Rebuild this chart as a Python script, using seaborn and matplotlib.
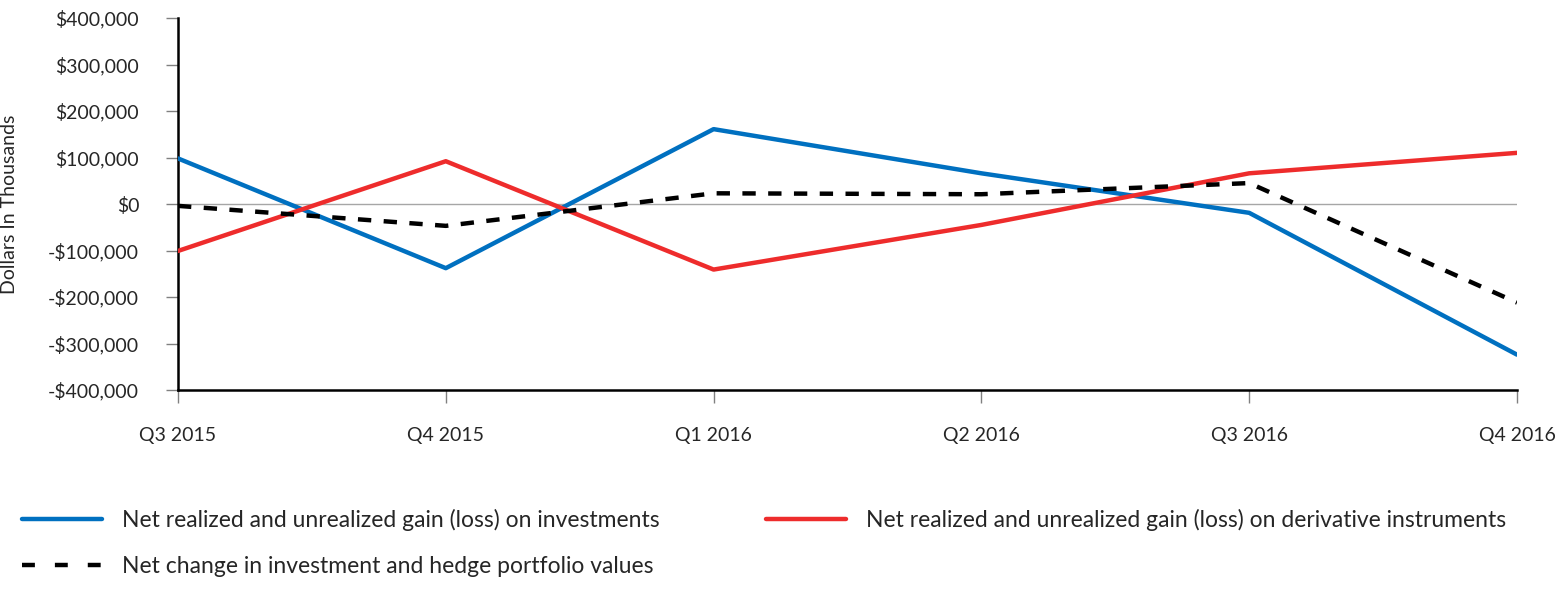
import matplotlib
matplotlib.use("Agg")
import matplotlib.pyplot as plt
import matplotlib.ticker as mticker
from matplotlib.lines import Line2D
import seaborn as sns
import pandas as pd

quarters = ["Q3 2015", "Q4 2015", "Q1 2016", "Q2 2016", "Q3 2016", "Q4 2016"]
investments = [98000, -138000, 161000, 66000, -19000, -324000]
derivatives = [-101000, 92000, -141000, -45000, 66000, 110000]
net_change = [-4000, -47000, 23000, 21000, 45000, -212000]

names = [
    "Net realized and unrealized gain (loss) on investments",
    "Net realized and unrealized gain (loss) on derivative instruments",
    "Net change in investment and hedge portfolio values",
]

rows = []
for name, vals in zip(names, [investments, derivatives, net_change]):
    for i, (q, v) in enumerate(zip(quarters, vals)):
        rows.append({"pos": i, "quarter": q, "value": v, "series": name})
df = pd.DataFrame(rows)

sns.set_theme(style="white")
plt.rcParams["font.family"] = ["Lato", "DejaVu Sans"]

W, H = 1557, 598
fig = plt.figure(figsize=(W / 100, H / 100), dpi=100)
ax = fig.add_axes([178 / W, 1 - 390 / H, (1517 - 178) / W, (390 - 18) / H])

colors = ["#0070C0", "#EE2C2C", "#000000"]
palette = dict(zip(names, colors))
dashes = {names[0]: "", names[1]: "", names[2]: (3, 2.8)}
sns.lineplot(data=df, x="pos", y="value", hue="series", style="series",
             palette=palette, dashes=dashes, linewidth=3.2, ax=ax, legend=False,
             zorder=3)

ax.axhline(0, color="#A6A6A6", linewidth=1, zorder=1)
ax.set_xlim(0, 5)
ax.set_ylim(-400000, 400000)
ax.set_xticks(range(len(quarters)))
ax.set_xticklabels(quarters)
ax.set_yticks(range(-400000, 400001, 100000))
ax.yaxis.set_major_formatter(mticker.FuncFormatter(
    lambda v, p: ("-$" if v < 0 else "$") + f"{abs(int(v)):,}"))
for s in ["top", "right"]:
    ax.spines[s].set_visible(False)
for s in ["left", "bottom"]:
    ax.spines[s].set_color("black")
    ax.spines[s].set_linewidth(1.8)
ax.tick_params(axis="both", which="major", direction="out", length=9, width=1,
               color="#808080", labelsize=14, labelcolor="#262626", bottom=True, left=True)
ax.tick_params(axis="x", pad=18)
ax.tick_params(axis="y", pad=19)
ax.set_xlabel("")
ax.set_ylabel("Dollars In Thousands", fontsize=14, color="#262626")
ax.yaxis.set_label_coords((18 - 178) / (1517 - 178), 0.5)
ax.grid(False)

lw = 3.2
h_blue = Line2D([], [], color=colors[0], lw=lw)
h_red = Line2D([], [], color=colors[1], lw=lw)
h_black = Line2D([], [], color=colors[2], lw=lw, dashes=(2.9, 4.5))
common = dict(loc="upper left", frameon=False, fontsize=16.5, handlelength=3.49,
              handletextpad=0.87, labelspacing=1.1, labelcolor="#262626",
              borderaxespad=0, borderpad=0)
leg1 = fig.legend([h_blue, h_black], [names[0], names[2]],
                  bbox_to_anchor=(22 / W, 1 - 509 / H), **common)
leg2 = fig.legend([h_red], [names[1]],
                  bbox_to_anchor=(766 / W, 1 - 509 / H), **common)

fig.savefig("out.png", dpi=100)
